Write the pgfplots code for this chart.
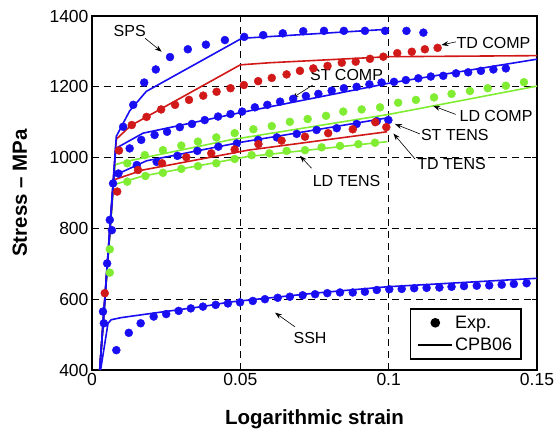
\documentclass[border=0pt]{standalone}
\usepackage{fontspec}
\setmainfont{Liberation Sans}
\usepackage{pgfplots}
\pgfplotsset{compat=1.18}
\usetikzlibrary{arrows.meta}
\definecolor{mblue}{rgb}{0.1,0.05,0.95}
\definecolor{mred}{rgb}{0.82,0.1,0.1}
\definecolor{mgreen}{rgb}{0.5,0.93,0.2}
\pgfplotsset{
 dotlegend/.style={legend image code/.code={\draw[black, mark=*, mark size=4pt] plot coordinates {(17pt,0pt)};}},
 linelegend/.style={legend image code/.code={\draw[black,line width=1.5pt] (0pt,0pt) -- (34pt,0pt);}},
 dots/.style={only marks, mark=*, mark size=4pt, color=#1, forget plot},
 model/.style={line width=1.6pt, color=#1, no markers, forget plot},
}
\begin{document}
\begin{tikzpicture}
\begin{axis}[name=ax, scale only axis, width=445pt, height=354pt,
 xmin=0, xmax=0.15, ymin=400, ymax=1400, clip=false,
 xtick={0,0.05,0.1,0.15}, xticklabels={0,0.05,0.1,0.15},
 ytick={400,600,800,1000,1200,1400}, yticklabels={400,600,800,1000,1200,1400},
 tick align=inside, major tick length=5pt, tick style={black, line width=0.8pt},
 grid=major, grid style={black, line width=0.8pt, dash pattern=on 7pt off 5pt},
 axis line style={line width=1.6pt},
 ticklabel style={font=\fontsize{17.5}{20}\selectfont},
 xlabel={Logarithmic strain}, ylabel={Stress -- MPa},
 label style={font=\bfseries\fontsize{20.5}{24}\selectfont},
 xlabel style={at={(axis description cs:0.5,-0.14)},anchor=center},
 ylabel style={at={(axis description cs:-0.162,0.5)},anchor=center},
 legend style={at={(0.966,0.175)}, anchor=north east, draw=black, line width=1.6pt,
   font=\fontsize{18}{21}\selectfont, row sep=4pt, inner xsep=7pt, inner ysep=5pt},
 legend cell align=left,
]
\addlegendimage{dotlegend}\addlegendentry{Exp.}
\addlegendimage{linelegend}\addlegendentry{CPB06}

% ---- experimental points ----
% SPS
\addplot[dots=mblue] table {
0.0105 1087
0.0139 1149
0.0176 1212
0.0215 1249
0.0263 1284
0.0323 1306
0.0384 1319
0.0448 1332
0.0513 1341
0.0577 1346
0.0643 1351
0.0712 1357
0.0782 1358
0.0849 1358
0.0920 1358
0.0988 1358
0.1060 1358
0.1117 1353
};
% elastic blue points
\addplot[dots=mblue] table {
0.0037 565
0.0040 532
0.0051 701
0.0060 824
0.0067 795
0.0071 927
};
% TD COMP
\addplot[dots=mred] table {
0.0091 1020
0.0134 1092
0.0184 1115
0.0233 1136
0.0280 1149
0.0327 1163
0.0375 1175
0.0420 1186
0.0467 1196
0.0512 1205
0.0560 1216
0.0606 1225
0.0656 1235
0.0701 1245
0.0746 1252
0.0794 1259
0.0842 1268
0.0889 1271
0.0937 1279
0.0982 1285
0.1029 1295
0.1078 1299
0.1122 1306
0.1165 1310
};
% ST COMP
\addplot[dots=mblue] table {
0.0127 1026
0.0166 1050
0.0211 1064
0.0253 1073
0.0296 1086
0.0337 1095
0.0380 1106
0.0425 1116
0.0467 1123
0.0506 1130
0.0549 1142
0.0591 1149
0.0634 1158
0.0678 1166
0.0721 1174
0.0763 1180
0.0808 1189
0.0849 1196
0.0892 1200
0.0935 1207
0.0976 1212
0.1018 1214
0.1058 1219
0.1100 1224
0.1142 1229
0.1184 1231
0.1227 1238
0.1268 1241
0.1311 1245
0.1353 1249
0.1395 1252
};
% LD COMP
\addplot[dots=mgreen] table {
0.0119 984
0.0178 1007
0.0239 1021
0.0301 1034
0.0357 1045
0.0419 1057
0.0481 1069
0.0544 1080
0.0606 1089
0.0667 1101
0.0727 1109
0.0789 1118
0.0847 1130
0.0909 1136
0.0971 1142
0.1032 1155
0.1092 1163
0.1153 1170
0.1212 1180
0.1274 1188
0.1334 1196
0.1395 1203
0.1456 1213
};
% green elastic points
\addplot[dots=mgreen] table {
0.0060 741
0.0060 675
};
% red elastic point
\addplot[dots=mred] table {
0.0043 617
};
% ST TENS
\addplot[dots=mblue] table {
0.0089 955
0.0151 979
0.0218 988
0.0288 1005
0.0355 1019
0.0426 1031
0.0488 1040
0.0560 1050
0.0623 1057
0.0690 1067
0.0757 1078
0.0825 1083
0.0892 1095
0.0960 1103
0.0999 1106
};
% TD TENS
\addplot[dots=mred] table {
0.0085 904
0.0155 965
0.0236 984
0.0318 1001
0.0402 1012
0.0481 1023
0.0561 1038
0.0639 1048
0.0718 1059
0.0796 1069
0.0879 1080
0.0955 1100
0.0992 1086
};
% LD TENS
\addplot[dots=mgreen] table {
0.0119 932
0.0180 948
0.0239 957
0.0301 968
0.0357 976
0.0419 984
0.0481 996
0.0538 1007
0.0598 1012
0.0656 1019
0.0718 1021
0.0774 1029
0.0836 1033
0.0898 1038
0.0954 1042
};
% SSH
\addplot[dots=mblue] table {
0.0082 456
0.0124 505
0.0164 532
0.0208 551
0.0250 558
0.0292 567
0.0333 574
0.0374 579
0.0417 584
0.0458 588
0.0499 591
0.0542 595
0.0583 600
0.0626 604
0.0667 607
0.0710 611
0.0752 614
0.0793 617
0.0836 619
0.0879 619
0.0920 621
0.0960 626
0.1002 628
0.1044 629
0.1086 631
0.1128 632
0.1171 633
0.1212 635
0.1254 637
0.1297 638
0.1339 639
0.1381 641
0.1422 643
0.1465 645
};

% ---- CPB06 model curves ----
\addplot[model=mgreen] table {
0.0026 400
0.0078 980
0.0120 990
0.0465 1050
0.1000 1122
0.1500 1202
};
\addplot[model=mgreen] table {
0.0026 400
0.0072 923
0.0172 948
0.0526 1003
0.0995 1045
};
\addplot[model=mred] table {
0.0026 400
0.0082 1052
0.0130 1090
0.0500 1262
0.0600 1268
0.1000 1285
0.1500 1288
};
\addplot[model=mred] table {
0.0026 400
0.0073 937
0.0172 965
0.0526 1021
0.0995 1073
};
\addplot[model=mblue] table {
0.0026 400
0.0080 1026
0.0172 1069
0.0500 1127
0.1000 1210
0.1500 1278
};
\addplot[model=mblue] table {
0.0026 400
0.0074 949
0.0184 991
0.0500 1043
0.0995 1112
};
\addplot[model=mblue] table {
0.0029 400
0.0054 532
0.0065 542
0.0099 548
0.0210 561
0.0379 580
0.0465 592
0.0750 617
0.0993 635
0.1500 659
};
\addplot[model=mblue] table {
0.0026 400
0.0082 1060
0.0127 1132
0.0183 1187
0.0505 1337
0.0988 1362
};

% ---- annotations ----
\tikzset{lab/.style={font=\fontsize{16}{18}\selectfont, inner sep=1pt},
         arr/.style={-{Stealth[length=7pt,width=5pt]}, line width=0.6pt, black}}
\node[lab] at (axis cs:0.0127,1357) {SPS};
\draw[arr] (axis cs:0.0179,1337) -- (axis cs:0.0235,1299);
\node[lab] at (axis cs:0.1353,1323) {TD COMP};
\draw[arr] (axis cs:0.1227,1327) -- (axis cs:0.1178,1318);
\node[lab] at (axis cs:0.0858,1233) {ST COMP};
\draw[arr] (axis cs:0.0744,1205) -- (axis cs:0.0673,1167);
\node[lab] at (axis cs:0.1362,1117) {LD COMP};
\draw[arr] (axis cs:0.1226,1122) -- (axis cs:0.1150,1146);
\node[lab] at (axis cs:0.1223,1064) {ST TENS};
\draw[arr] (axis cs:0.1105,1067) -- (axis cs:0.1021,1095);
\node[lab] at (axis cs:0.1212,982) {TD TENS};
\draw[arr] (axis cs:0.1089,996) -- (axis cs:0.1016,1068);
\node[lab] at (axis cs:0.0858,935) {LD TENS};
\draw[arr] (axis cs:0.0740,970) -- (axis cs:0.0701,1005);
\node[lab] at (axis cs:0.0735,490) {SSH};
\draw[arr] (axis cs:0.0684,522) -- (axis cs:0.0617,562);
\end{axis}
\pgfresetboundingbox
\path ([shift={(-92pt,-60pt)}]ax.south west) rectangle ([shift={(18pt,16pt)}]ax.north east);
\end{tikzpicture}
\end{document}
